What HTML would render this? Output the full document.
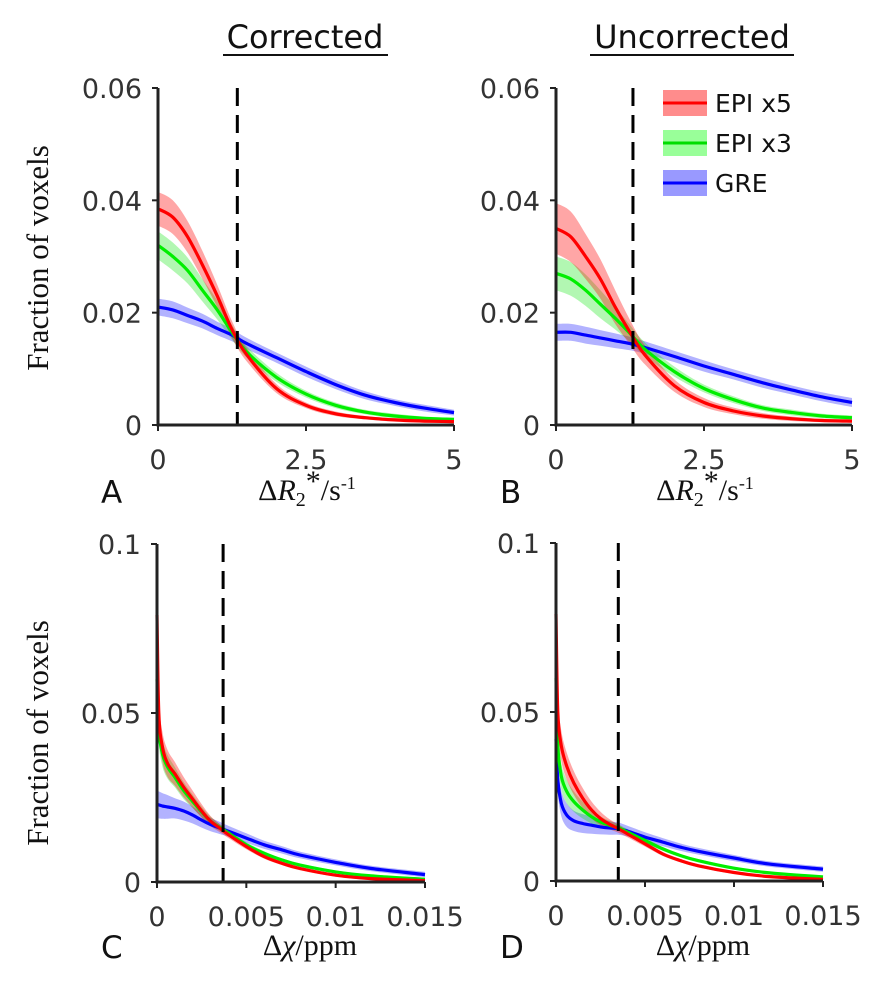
<!DOCTYPE html>
<html><head><meta charset="utf-8">
<style>
body{margin:0;background:#fff;}
svg text{font-family:"DejaVu Sans","Liberation Sans",sans-serif;}
.tick{font-size:27px;fill:#333;}
.serif{font-family:"Liberation Serif",serif !important;}
</style></head>
<body>
<svg id="fig" width="880" height="991" viewBox="0 0 880 991" xmlns="http://www.w3.org/2000/svg">
<text x="305" y="48" text-anchor="middle" font-size="32" fill="#111">Corrected</text>
<line x1="223" y1="55" x2="388" y2="55" stroke="#111" stroke-width="2"/>
<text x="692" y="48" text-anchor="middle" font-size="32" fill="#111">Uncorrected</text>
<line x1="590" y1="55" x2="794" y2="55" stroke="#111" stroke-width="2"/>
<text class="serif" transform="translate(48,258) rotate(-90)" text-anchor="middle" font-size="31" fill="#111">Fraction of voxels</text>
<text class="serif" transform="translate(48,733) rotate(-90)" text-anchor="middle" font-size="31" fill="#111">Fraction of voxels</text>
<text x="101" y="503" font-size="31" fill="#111">A</text>
<text x="500" y="503" font-size="31" fill="#111">B</text>
<text x="101" y="958" font-size="31" fill="#111">C</text>
<text x="500" y="958" font-size="31" fill="#111">D</text>
<text class="serif" x="307" y="500" text-anchor="middle" font-size="30" fill="#111">Δ<tspan font-style="italic">R</tspan><tspan font-size="20" dy="6">2</tspan><tspan dy="-15">*</tspan><tspan dy="9">/s</tspan><tspan font-size="18" dy="-11">-1</tspan></text>
<text class="serif" x="705" y="500" text-anchor="middle" font-size="30" fill="#111">Δ<tspan font-style="italic">R</tspan><tspan font-size="20" dy="6">2</tspan><tspan dy="-15">*</tspan><tspan dy="9">/s</tspan><tspan font-size="18" dy="-11">-1</tspan></text>
<text class="serif" x="310" y="955" text-anchor="middle" font-size="30" fill="#111">Δ<tspan font-style="italic">χ</tspan>/ppm</text>
<text class="serif" x="703" y="955" text-anchor="middle" font-size="30" fill="#111">Δ<tspan font-style="italic">χ</tspan>/ppm</text>
<g id="legend">
<rect x="663" y="90" width="44" height="26" fill="rgba(255,0,0,0.45)"/><line x1="663" y1="103" x2="707" y2="103" stroke="#f00" stroke-width="3"/>
<text x="715" y="112" font-size="25" fill="#111">EPI x5</text>
<rect x="663" y="130" width="44" height="26" fill="rgba(0,255,0,0.4)"/><line x1="663" y1="143" x2="707" y2="143" stroke="#0d0" stroke-width="3"/>
<text x="715" y="152" font-size="25" fill="#111">EPI x3</text>
<rect x="663" y="170" width="44" height="26" fill="rgba(0,0,255,0.4)"/><line x1="663" y1="183" x2="707" y2="183" stroke="#00f" stroke-width="3"/>
<text x="715" y="192" font-size="25" fill="#111">GRE</text>
</g>
</svg>
<script>
const xR2 = [0,0.25,0.5,0.75,1,1.25,1.5,2,2.5,3,3.5,4,4.5,5];
const redA = [0.0385,0.037,0.0335,0.0285,0.023,0.017,0.0125,0.0065,0.0035,0.002,0.0013,0.0009,0.0007,0.0006];
const greenA = [0.032,0.030,0.0275,0.024,0.0205,0.0165,0.013,0.0085,0.0055,0.0035,0.0023,0.0016,0.0012,0.001];
const blueA = [0.021,0.0205,0.0195,0.0185,0.0172,0.016,0.0145,0.012,0.0095,0.0072,0.0053,0.004,0.003,0.0022];
const redB = [0.035,0.0335,0.030,0.026,0.021,0.0165,0.0125,0.007,0.004,0.0025,0.0016,0.0011,0.0008,0.0007];
const greenB = [0.027,0.026,0.024,0.0215,0.019,0.0163,0.0135,0.0095,0.0065,0.0045,0.003,0.0022,0.0016,0.0013];
const blueB = [0.0165,0.0165,0.016,0.0155,0.015,0.0145,0.0138,0.0122,0.0105,0.009,0.0075,0.0062,0.005,0.004];
const bandRA = [0.003,0.003,0.0028,0.0025,0.002,0.0015,0.0012,0.0008,0.0005,0.0004,0.0003,0.0003,0.0003,0.0003];
const bandGA = [0.0025,0.0025,0.0023,0.002,0.0017,0.0013,0.001,0.0008,0.0006,0.0005,0.0004,0.0004,0.0003,0.0003];
const bandBA = [0.0015,0.0015,0.0014,0.0013,0.0012,0.0011,0.001,0.0009,0.0009,0.0008,0.0007,0.0006,0.0006,0.0005];
const bandRB = [0.0045,0.0045,0.004,0.0035,0.003,0.0022,0.0017,0.0011,0.0008,0.0006,0.0005,0.0004,0.0003,0.0003];
const bandGB = [0.003,0.003,0.0028,0.0025,0.002,0.0015,0.0012,0.0009,0.0007,0.0006,0.0005,0.0005,0.0004,0.0004];
const bandBB = [0.0015,0.0015,0.0015,0.0014,0.0013,0.0012,0.0011,0.001,0.001,0.0009,0.0009,0.0008,0.0008,0.0008];
const xChi = [0,0.0001,0.0003,0.0006,0.001,0.0015,0.002,0.0025,0.003,0.0035,0.004,0.005,0.006,0.007,0.008,0.01,0.012,0.015];
const redC = [0.079,0.05,0.04,0.035,0.032,0.028,0.0245,0.021,0.018,0.016,0.014,0.0105,0.0075,0.0055,0.004,0.002,0.001,0.0004];
const greenC = [0.06,0.045,0.038,0.034,0.031,0.027,0.0238,0.0207,0.018,0.0162,0.0145,0.011,0.0085,0.0065,0.005,0.003,0.0018,0.0008];
const blueC = [0.023,0.0228,0.0225,0.0222,0.0218,0.021,0.0198,0.0183,0.017,0.016,0.015,0.013,0.011,0.0095,0.008,0.0058,0.004,0.0022];
const redD = [0.079,0.05,0.04,0.034,0.029,0.0245,0.021,0.0185,0.0168,0.0155,0.014,0.011,0.008,0.006,0.0045,0.0025,0.0013,0.0005];
const greenD = [0.06,0.04,0.031,0.0265,0.0235,0.021,0.019,0.0175,0.0165,0.0158,0.0145,0.012,0.0095,0.0075,0.006,0.0038,0.0024,0.0012];
const blueD = [0.042,0.03,0.023,0.0195,0.0178,0.017,0.0165,0.016,0.0157,0.0155,0.0148,0.013,0.0115,0.01,0.0088,0.0068,0.005,0.0035];
const bandChiR = [0.006,0.005,0.0045,0.004,0.0035,0.003,0.0025,0.002,0.0015,0.0012,0.001,0.0008,0.0006,0.0005,0.0005,0.0004,0.0004,0.0004];
const bandChiG = [0.004,0.004,0.0038,0.0035,0.003,0.0025,0.002,0.0016,0.0013,0.001,0.0009,0.0008,0.0006,0.0005,0.0005,0.0004,0.0004,0.0004];
const bandChiB = [0.004,0.004,0.0038,0.0035,0.003,0.0028,0.0025,0.0022,0.002,0.0018,0.0016,0.0014,0.0012,0.0011,0.001,0.0009,0.0008,0.0008];
const ticksR2 = [0,2.5,5];
const ticksR2Labels = ["0","2.5","5"];
const ticksChi = [0,0.005,0.01,0.015];
const ticksChiLabels = ["0","0.005","0.01","0.015"];
const yTicksTop = [0,0.02,0.04,0.06];
const yTicksTopLabels = ["0","0.02","0.04","0.06"];
const yTicksBot = [0,0.05,0.1];
const yTicksBotLabels = ["0","0.05","0.1"];
const dashR2 = [1.34,1.3];
const dashChi = [0.0037,0.0035];

const NS = "http://www.w3.org/2000/svg";
const svg = document.getElementById('fig');
function mk(tag, attrs, parent){const e=document.createElementNS(NS,tag);for(const k in attrs)e.setAttribute(k,attrs[k]);(parent||svg).appendChild(e);return e;}
function smooth(pts, start){
  let d = (start?'M':'L') + pts[0][0].toFixed(1)+','+pts[0][1].toFixed(1);
  for(let i=0;i<pts.length-1;i++){
    const p0=pts[Math.max(0,i-1)],p1=pts[i],p2=pts[i+1],p3=pts[Math.min(pts.length-1,i+2)];
    const c1=[p1[0]+(p2[0]-p0[0])/6,p1[1]+(p2[1]-p0[1])/6];
    const c2=[p2[0]-(p3[0]-p1[0])/6,p2[1]-(p3[1]-p1[1])/6];
    d+='C'+c1[0].toFixed(1)+','+c1[1].toFixed(1)+' '+c2[0].toFixed(1)+','+c2[1].toFixed(1)+' '+p2[0].toFixed(1)+','+p2[1].toFixed(1);
  }
  return d;
}
function panel(name, px0, px1, xmax, py0, py1, ymax, xs, series, xt, xtl, yt, ytl, dashX){
  const g = mk('g',{});
  
  
  const sx = v => px0 + (px1 - px0) * v / xmax;
  const sy = v => py0 - (py0 - py1) * v / ymax;
  series.forEach(s => {
    const up = xs.map((x,i)=>[sx(x), sy(s.v[i] + s.b[i])]);
    const lo = xs.map((x,i)=>[sx(x), sy(Math.max(0, s.v[i] - s.b[i]))]).reverse();
    const band = mk('path',{d:smooth(up,true)+smooth(lo,false)+'Z',fill:s.fill,stroke:'none'},g);
    
    
  });
  series.forEach(s => {
    const pts = xs.map((x,i)=>[sx(x), sy(s.v[i])]);
    const ln = mk('path',{d:smooth(pts,true),fill:'none',stroke:s.col,'stroke-width':3.2,'stroke-linejoin':'round'},g);
    
    
  });
  const dl = mk('line',{x1:sx(dashX),x2:sx(dashX),y1:py1,y2:py0,stroke:'#000','stroke-width':3,'stroke-dasharray':'18,9'},g);
  
  
  const ax = mk('path',{d:`M${px0},${py1}L${px0},${py0}L${px1},${py0}`,fill:'none',stroke:'#222','stroke-width':3},g);
  
  
  xt.forEach((t,i)=>{
    mk('line',{x1:sx(t),x2:sx(t),y1:py0,y2:py0+6,stroke:'#222','stroke-width':2},g);
    const tx = mk('text',{x:sx(t),y:py0+44,'text-anchor':'middle',class:'tick'},g);
    tx.textContent = xtl[i];
    
    
  });
  yt.forEach((t,i)=>{
    mk('line',{x1:px0-6,x2:px0,y1:sy(t),y2:sy(t),stroke:'#222','stroke-width':2},g);
    const tx = mk('text',{x:px0-16,y:sy(t)+10,'text-anchor':'end',class:'tick'},g);
    tx.textContent = ytl[i];
    
    
  });
}
const R='rgba(255,0,0,0.35)', G='rgba(0,230,0,0.3)', B='rgba(0,0,255,0.3)';
panel('a',158,454,5,425,88,0.06,xR2,[
 {name:'gre',v:blueA,b:bandBA,col:'#00f',fill:B},{name:'epi-x3',v:greenA,b:bandGA,col:'#0e0',fill:G},{name:'epi-x5',v:redA,b:bandRA,col:'#f00',fill:R}],
 ticksR2,ticksR2Labels,yTicksTop,yTicksTopLabels,dashR2[0]);
panel('b',556,852,5,425,88,0.06,xR2,[
 {name:'gre',v:blueB,b:bandBB,col:'#00f',fill:B},{name:'epi-x3',v:greenB,b:bandGB,col:'#0e0',fill:G},{name:'epi-x5',v:redB,b:bandRB,col:'#f00',fill:R}],
 ticksR2,ticksR2Labels,yTicksTop,yTicksTopLabels,dashR2[1]);
panel('c',157,425,0.015,882,544,0.1,xChi,[
 {name:'gre',v:blueC,b:bandChiB,col:'#00f',fill:B},{name:'epi-x3',v:greenC,b:bandChiG,col:'#0e0',fill:G},{name:'epi-x5',v:redC,b:bandChiR,col:'#f00',fill:R}],
 ticksChi,ticksChiLabels,yTicksBot,yTicksBotLabels,dashChi[0]);
panel('d',556,823,0.015,881,543,0.1,xChi,[
 {name:'gre',v:blueD,b:bandChiB,col:'#00f',fill:B},{name:'epi-x3',v:greenD,b:bandChiG,col:'#0e0',fill:G},{name:'epi-x5',v:redD,b:bandChiR,col:'#f00',fill:R}],
 ticksChi,ticksChiLabels,yTicksBot,yTicksBotLabels,dashChi[1]);
</script>
</body></html>
